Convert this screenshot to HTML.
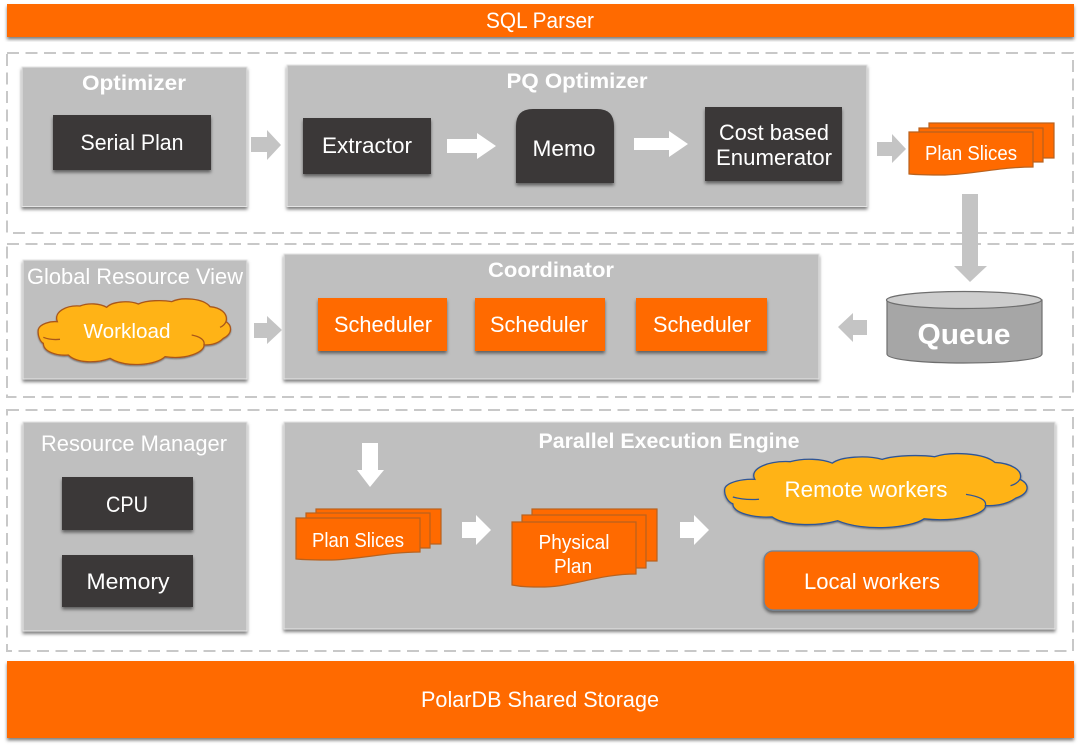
<!DOCTYPE html>
<html><head><meta charset="utf-8"><style>
html,body{margin:0;padding:0;background:#fff;width:1080px;height:747px;overflow:hidden}
svg{display:block}
text{font-family:"Liberation Sans",sans-serif;fill:#fff;text-anchor:middle}
.t{font-size:22px}
.b{font-size:21px;font-weight:bold}
.d{fill:none;stroke:#c8c8c8;stroke-width:2;stroke-dasharray:12 6.5}
.p{fill:#bfbfbf;stroke:#e4e4e4;stroke-width:1;filter:url(#sh)}
.k{fill:#3a3838;filter:url(#sh)}
.o{fill:#ff6a00;filter:url(#sh)}
.ga{fill:#c4c4c4}
.wa{fill:#fff}
.s{fill:#ff6a00;stroke:#b8621f;stroke-width:1.2}
.c{fill:#ffb318;stroke-width:1.3;vector-effect:non-scaling-stroke}
.l{fill:none;stroke-width:1.3;vector-effect:non-scaling-stroke}
</style></head><body>
<svg width="1080" height="747" viewBox="0 0 1080 747" xmlns="http://www.w3.org/2000/svg">
<defs>
<filter id="sh" x="-10%" y="-10%" width="120%" height="125%"><feDropShadow dx="0" dy="2.5" stdDeviation="1.6" flood-color="#000" flood-opacity=".5"/></filter>
<filter id="sc" x="-10%" y="-10%" width="120%" height="130%"><feDropShadow dx="0" dy="3" stdDeviation="2" flood-color="#000" flood-opacity=".4"/></filter>
</defs>

<!-- dashed groups -->
<rect class="d" x="7" y="53" width="1066" height="180"/>
<rect class="d" x="7" y="244" width="1066" height="153"/>
<rect class="d" x="7" y="410" width="1066" height="241"/>

<!-- bars -->
<rect class="o" x="7" y="4" width="1067" height="33"/>
<text class="t" x="540" y="28" textLength="108" lengthAdjust="spacingAndGlyphs">SQL Parser</text>
<rect class="o" x="7" y="661" width="1067" height="77"/>
<text class="t" x="540" y="707" textLength="238" lengthAdjust="spacingAndGlyphs">PolarDB Shared Storage</text>

<!-- panels -->
<rect class="p" x="22" y="67" width="225" height="139.500"/>
<rect class="p" x="287" y="65" width="580" height="141.500"/>
<rect class="p" x="23" y="260" width="224" height="119"/>
<rect class="p" x="284" y="254" width="535" height="125"/>
<rect class="p" x="23" y="422" width="224" height="209"/>
<rect class="p" x="284" y="422" width="771" height="207"/>

<!-- panel titles -->
<text class="b" x="134" y="90" textLength="104" lengthAdjust="spacingAndGlyphs">Optimizer</text>
<text class="b" x="577" y="88" textLength="141" lengthAdjust="spacingAndGlyphs">PQ Optimizer</text>
<text class="t" x="135" y="284" textLength="216" lengthAdjust="spacingAndGlyphs">Global Resource View</text>
<text class="b" x="551" y="277" textLength="126" lengthAdjust="spacingAndGlyphs">Coordinator</text>
<text class="t" x="134" y="451" textLength="186" lengthAdjust="spacingAndGlyphs">Resource Manager</text>
<text class="b" x="669" y="448" textLength="261" lengthAdjust="spacingAndGlyphs">Parallel Execution Engine</text>

<!-- dark boxes -->
<rect class="k" x="53" y="115" width="158" height="55"/>
<text class="t" x="132" y="150" textLength="103" lengthAdjust="spacingAndGlyphs">Serial Plan</text>
<rect class="k" x="303" y="118" width="128" height="56"/>
<text class="t" x="367" y="153" textLength="90" lengthAdjust="spacingAndGlyphs">Extractor</text>
<path class="k" d="M516 183V126Q516 109 533 109H597Q614 109 614 126V183Z"/>
<text class="t" x="564" y="156" textLength="63" lengthAdjust="spacingAndGlyphs">Memo</text>
<rect class="k" x="705" y="107" width="137" height="74"/>
<text class="t" x="774" y="140" textLength="110" lengthAdjust="spacingAndGlyphs">Cost based</text>
<text class="t" x="774" y="165" textLength="116" lengthAdjust="spacingAndGlyphs">Enumerator</text>
<rect class="k" x="62" y="477" width="131" height="53"/>
<text class="t" x="127" y="512" textLength="42" lengthAdjust="spacingAndGlyphs">CPU</text>
<rect class="k" x="62" y="555" width="131" height="52"/>
<text class="t" x="128" y="589" textLength="83" lengthAdjust="spacingAndGlyphs">Memory</text>

<!-- schedulers -->
<rect class="o" x="318" y="298" width="129" height="53"/>
<text class="t" x="383" y="332" textLength="98" lengthAdjust="spacingAndGlyphs">Scheduler</text>
<rect class="o" x="475" y="298" width="130" height="53"/>
<text class="t" x="539" y="332" textLength="98" lengthAdjust="spacingAndGlyphs">Scheduler</text>
<rect class="o" x="636" y="298" width="131" height="53"/>
<text class="t" x="702" y="332" textLength="98" lengthAdjust="spacingAndGlyphs">Scheduler</text>

<!-- local workers -->
<rect x="764" y="551" width="215" height="59" rx="9" fill="#ff6a00" stroke="#6f8296" stroke-width="1.300" filter="url(#sh)"/>
<text class="t" x="872" y="589" textLength="136" lengthAdjust="spacingAndGlyphs">Local workers</text>

<!-- gray arrows -->
<polygon class="ga" points="251,137 267,137 267,130 281,145 267,160 267,152 251,152"/>
<polygon class="ga" points="877,142 892,142 892,134 906,149 892,163 892,156 877,156"/>
<polygon class="ga" points="962,194 978,194 978,266 987,266 970,282 954,266 962,266"/>
<polygon class="ga" points="867,320 853,320 853,313 838,327 853,342 853,335 867,335"/>
<polygon class="ga" points="254,323 267,323 267,316 282,330 267,344 267,338 254,338"/>

<!-- white arrows -->
<polygon class="wa" points="447,139 477,139 477,133 496,146 477,159 477,153 447,153"/>
<polygon class="wa" points="634,138 669,138 669,131 688,144 669,157 669,150 634,150"/>
<polygon class="wa" points="362,443 378,443 378,470 384,470 370,487 357,470 362,470"/>
<polygon class="wa" points="462,522 476,522 476,515 491,530 476,545 476,538 462,538"/>
<polygon class="wa" points="680,522 694,522 694,515 709,530 694,545 694,538 680,538"/>

<!-- plan slices top -->
<rect class="s" x="929" y="123" width="125" height="35"/>
<rect class="s" x="919" y="128" width="124" height="34"/>
<path class="s" d="M909 132H1033V167C1000,167 975,174 945,175 930,175 920,175 909,174Z"/>
<text class="t" style="font-size:20px" x="971" y="160" textLength="92" lengthAdjust="spacingAndGlyphs">Plan Slices</text>

<!-- plan slices bottom -->
<rect class="s" x="316" y="509" width="125" height="35"/>
<rect class="s" x="306" y="513" width="124" height="35"/>
<path class="s" d="M296 518H420V552C388,552 362,559 332,560 317,560 307,560 296,559Z"/>
<text class="t" style="font-size:20px" x="358" y="547" textLength="92" lengthAdjust="spacingAndGlyphs">Plan Slices</text>

<!-- physical plan -->
<rect class="s" x="532" y="509" width="125" height="52"/>
<rect class="s" x="522" y="515" width="124" height="53"/>
<path class="s" d="M512 522H636V574C600,574 575,586 545,587 530,587 522,587 512,585Z"/>
<text class="t" style="font-size:20px" x="574" y="549" textLength="71" lengthAdjust="spacingAndGlyphs">Physical</text>
<text class="t" style="font-size:20px" x="573" y="573" textLength="38" lengthAdjust="spacingAndGlyphs">Plan</text>

<!-- queue -->
<path d="M887 300V354C887,360 925,363 964,363S1042,360 1042,354V300Z" fill="#a6a6a6" stroke="#6e6e6e" stroke-width="1.200"/>
<ellipse cx="964" cy="300" rx="77.500" ry="8.500" fill="#cdcdcd" stroke="#6e6e6e" stroke-width="1.200"/>
<text x="964" y="344" style="font-size:29px;font-weight:bold" textLength="93" lengthAdjust="spacingAndGlyphs">Queue</text>

<!-- workload cloud -->
<g transform="translate(0,250) scale(.33333)">
<path class="c" stroke="#a9571a" filter="url(#sc)" d="M115 238C120 222 150 213 172 215C160 185 200 165 240 168C265 158 300 160 320 172C335 155 385 150 415 162C440 150 490 150 515 155C545 140 610 145 630 170C660 172 685 190 678 215C695 225 700 250 670 265C650 285 625 285 612 285C615 305 560 330 495 320C470 345 380 355 330 325C290 340 230 340 205 315C170 318 130 305 130 280C120 275 112 255 115 238Z"/>
<path class="l" stroke="#a9571a" d="M180 268C160 270 145 268 130 262M575 255C600 260 615 270 612 285M678 215C675 222 670 228 660 232"/>
</g>
<text class="t" style="font-size:20px" x="127" y="338" textLength="87" lengthAdjust="spacingAndGlyphs">Workload</text>

<!-- remote cloud -->
<g transform="translate(664.700,398.500) scale(.524,.376)">
<path class="c" stroke="#2f5597" filter="url(#sc)" d="M115 238C120 222 150 213 172 215C160 185 200 165 240 168C265 158 300 160 320 172C335 155 385 150 415 162C440 150 490 150 515 155C545 140 610 145 630 170C660 172 685 190 678 215C695 225 700 250 670 265C650 285 625 285 612 285C615 305 560 330 495 320C470 345 380 355 330 325C290 340 230 340 205 315C170 318 130 305 130 280C120 275 112 255 115 238Z"/>
<path class="l" stroke="#2f5597" d="M180 268C160 270 145 268 130 262M575 255C600 260 615 270 612 285M678 215C675 222 670 228 660 232"/>
</g>
<text class="t" x="866" y="497" textLength="163" lengthAdjust="spacingAndGlyphs">Remote workers</text>
</svg>
</body></html>
